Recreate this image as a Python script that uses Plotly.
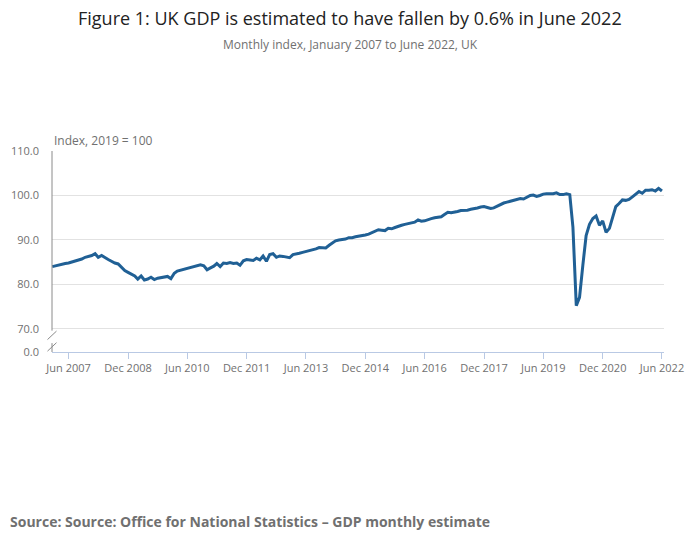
import plotly.graph_objects as go
import pandas as pd

# monthly GDP index, 2019 = 100, Jan 2007 .. Jun 2022
gdp = [
    84.0, 84.2, 84.4, 84.6, 84.7, 84.8, 85.0, 85.3, 85.5, 85.7, 86.1, 86.3,  # 2007
    86.5, 86.9, 86.1, 86.5, 86.0, 85.6, 85.2, 84.8, 84.6, 83.8, 83.1, 82.7,  # 2008
    82.3, 81.9, 81.2, 81.9, 81.0, 81.2, 81.6, 81.1, 81.4, 81.5, 81.6, 81.8,  # 2009
    81.3, 82.5, 83.0, 83.2, 83.4, 83.6, 83.8, 84.0, 84.1, 84.4, 84.2, 83.3,  # 2010
    83.7, 84.1, 84.7, 84.0, 84.8, 84.7, 84.9, 84.7, 84.8, 84.3, 85.3, 85.6,  # 2011
    85.5, 85.4, 85.9, 85.5, 86.4, 85.2, 86.7, 86.9, 86.1, 86.4, 86.3, 86.1,  # 2012
    86.0, 86.7, 86.8, 87.0, 87.2, 87.4, 87.5, 87.8, 88.0, 88.3, 88.3, 88.2,  # 2013
    88.8, 89.4, 89.8, 90.0, 90.1, 90.2, 90.5, 90.5, 90.7, 90.8, 90.9, 91.1,  # 2014
    91.3, 91.6, 91.9, 92.3, 92.2, 92.1, 92.6, 92.5, 92.8, 93.1, 93.3, 93.5,  # 2015
    93.7, 93.9, 94.0, 94.5, 94.2, 94.3, 94.6, 94.8, 95.0, 95.1, 95.2, 95.7,  # 2016
    96.2, 96.1, 96.2, 96.4, 96.6, 96.6, 96.7, 96.9, 97.0, 97.2, 97.4, 97.5,  # 2017
    97.3, 97.1, 97.2, 97.6, 97.9, 98.3, 98.5, 98.7, 98.9, 99.1, 99.3, 99.2,  # 2018
    99.6, 100.0, 100.1, 99.8, 100.0, 100.3, 100.4, 100.4, 100.4, 100.6, 100.2, 100.2,  # 2019
    100.4, 100.2, 92.9, 75.2, 77.1, 84.4, 91.0, 93.5, 94.8, 95.4, 93.3, 94.3,  # 2020
    91.7, 92.6, 95.0, 97.5, 98.2, 99.0, 98.9, 99.1, 99.7, 100.2, 100.9, 100.5,  # 2021
    101.2, 101.2, 101.3, 101.0, 101.6, 101.0,  # 2022
]
months = pd.date_range("2007-01-01", periods=len(gdp), freq="MS")

tick_dates = ["2007-06-01", "2008-12-01", "2010-06-01", "2011-12-01", "2013-06-01", "2014-12-01",
              "2016-06-01", "2017-12-01", "2019-06-01", "2020-12-01", "2022-06-01"]
tick_labels = ["Jun 2007", "Dec 2008", "Jun 2010", "Dec 2011", "Jun 2013", "Dec 2014",
               "Jun 2016", "Dec 2017", "Jun 2019", "Dec 2020", "Jun 2022"]

y_ticks = [64.8, 70, 80, 90, 100, 110]
y_labels = ["0.0", "70.0", "80.0", "90.0", "100.0", "110.0"]

FONT = "Open Sans"
GREY = "#707070"

fig = go.Figure()
fig.add_scatter(x=months, y=gdp, mode="lines",
                line=dict(color="#206095", width=3), hoverinfo="x+y")

axis_col = "#8a8a8a"
fig.update_layout(
    width=700, height=549,
    margin=dict(l=52, r=36, t=151, b=197),
    plot_bgcolor="white", paper_bgcolor="white",
    showlegend=False,
    font=dict(family=FONT, size=11, color=GREY),
    xaxis=dict(
        type="date", range=["2006-12-30", "2022-06-20"],
        tickvals=tick_dates, ticktext=tick_labels,
        showgrid=False, zeroline=False,
        showline=True, linecolor="#b9c9e4", linewidth=1,
        ticks="outside", tickcolor="#b9c9e4", ticklen=6,
        tickfont=dict(size=11, color=GREY),
    ),
    yaxis=dict(
        range=[64.8, 110], tickvals=y_ticks, ticktext=y_labels,
        showgrid=True, gridcolor="#e2e2e2", gridwidth=1,
        zeroline=False, showline=False, ticks="",
        ticklabelstandoff=12,
        tickfont=dict(size=11, color=GREY),
    ),
    shapes=[
        # y axis with a break between 70 and 0
        dict(type="line", xref="paper", yref="y", x0=0, x1=0, y0=110, y1=69.6,
             line=dict(color=axis_col, width=1)),
        dict(type="line", xref="paper", yref="y", x0=0, x1=0, y0=66.8, y1=64.8,
             line=dict(color=axis_col, width=1)),
        dict(type="line", xref="paper", yref="y", xsizemode="pixel", xanchor=0,
             x0=-4.5, x1=4.5, y0=67.6, y1=69.5, line=dict(color=axis_col, width=1)),
        dict(type="line", xref="paper", yref="y", xsizemode="pixel", xanchor=0,
             x0=-4.5, x1=4.5, y0=65.0, y1=66.9, line=dict(color=axis_col, width=1)),
    ],
    annotations=[
        dict(text="Figure 1: UK GDP is estimated to have fallen by 0.6% in June 2022",
             xref="paper", yref="paper", x=0.5, y=0, xanchor="center", yanchor="middle",
             xshift=-(52 - 36) / 2, yshift=549 - 197 - 18, showarrow=False,
             font=dict(family=FONT, size=18, color="#222222")),
        dict(text="Monthly index, January 2007 to June 2022, UK",
             xref="paper", yref="paper", x=0.5, y=0, xanchor="center", yanchor="middle",
             xshift=-(52 - 36) / 2, yshift=549 - 197 - 44, showarrow=False,
             font=dict(family=FONT, size=12, color=GREY)),
        dict(text="Index, 2019 = 100", xref="paper", yref="paper", x=0, y=1,
             xanchor="left", yanchor="bottom", yshift=0, showarrow=False,
             font=dict(family=FONT, size=12, color=GREY)),
        dict(text="<b>Source: Source: Office for National Statistics – GDP monthly estimate</b>",
             xref="paper", yref="paper", x=0, y=0, xanchor="left", yanchor="middle",
             xshift=-44, yshift=-(521 - 352), showarrow=False,
             font=dict(family=FONT, size=14, color=GREY)),
    ],
)

fig.write_html("out.html", config={"displayModeBar": False},
               post_script="document.body.style.margin='0';")
